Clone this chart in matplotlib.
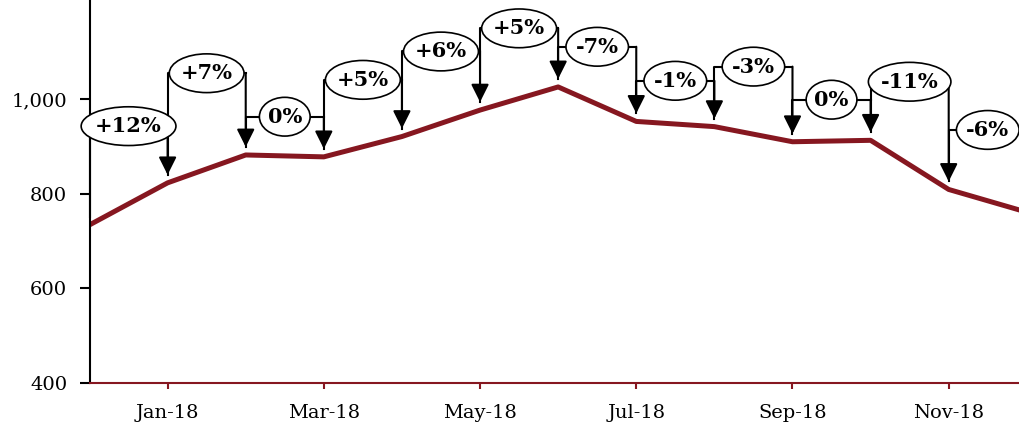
import numpy as np
import matplotlib
matplotlib.use("Agg")
import matplotlib.pyplot as plt
from matplotlib.path import Path
from matplotlib.transforms import Affine2D

plt.rcParams["font.family"] = ["DejaVu Serif"]

months = ["Dec-17", "Jan-18", "Feb-18", "Mar-18", "Apr-18", "May-18", "Jun-18",
          "Jul-18", "Aug-18", "Sep-18", "Oct-18", "Nov-18", "Dec-18"]
values = [734, 823, 882, 878, 921, 977, 1026, 953, 942, 910, 913, 809, 761]
changes = ["+12%", "+7%", "0%", "+5%", "+6%", "+5%", "-7%", "-1%", "-3%", "0%", "-11%", "-6%"]
bracket_heights = [943, 1055, 963, 1041, 1101, 1150, 1111, 1039, 1069, 999, 1037, 935]
yticks = [400, 600, 800, 1000]

LINE_RED = "#861720"
GAP = 17  # space between line and bracket ends


def ellipse_box(x0, y0, width, height, mutation_size):
    # ellipse drawn around the text box
    cx, cy = x0 + width / 2, y0 + height / 2
    a = width / 2 * 1.36 + 2
    b = mutation_size * 0.93
    return Affine2D().scale(a, b).translate(cx, cy).transform_path(Path.unit_circle())


fig = plt.figure(figsize=(10.19, 4.25), dpi=100)
ax = fig.add_axes([89.5 / 1019, 42.3 / 425, (1019 - 89.5) / 1019, 382.7 / 425])

x = np.arange(len(months))
ax.plot(x, values, color=LINE_RED, lw=3.6, zorder=2)

for i, label in enumerate(changes):
    x0, x1 = x[i], x[i + 1]
    h = bracket_heights[i]
    ax.plot([x0, x0, x1], [values[i] + GAP, h, h], color="black", lw=1.5, zorder=3,
            clip_on=False)
    ax.annotate("", xy=(x1, values[i + 1] + GAP), xytext=(x1, h),
                arrowprops=dict(arrowstyle="-|>,head_length=0.9,head_width=0.45",
                                mutation_scale=12, color="black", lw=1.5,
                                shrinkA=0, shrinkB=0),
                zorder=3)
    ax.text((x0 + x1) / 2, h, label, ha="center", va="center", fontsize=15,
            fontweight="bold", zorder=4,
            bbox=dict(boxstyle=ellipse_box, fc="white", ec="black", lw=1.2))

ax.set_xlim(0, 11.9)
ax.set_ylim(400, 1210)
ax.set_xticks(x[1::2])
ax.set_xticklabels(months[1::2], fontsize=14)
ax.set_yticks(yticks)
ax.set_yticklabels([f"{v:,}" for v in yticks], fontsize=14)

ax.spines["top"].set_visible(False)
ax.spines["right"].set_visible(False)
ax.spines["left"].set_linewidth(1.5)
ax.spines["bottom"].set_color(LINE_RED)
ax.spines["bottom"].set_linewidth(1.5)
ax.tick_params(axis="x", colors=LINE_RED, length=4, width=1.5, labelcolor="black", pad=11)
ax.tick_params(axis="y", length=7, width=1.5, pad=9)

fig.savefig("out.png", dpi=100)
